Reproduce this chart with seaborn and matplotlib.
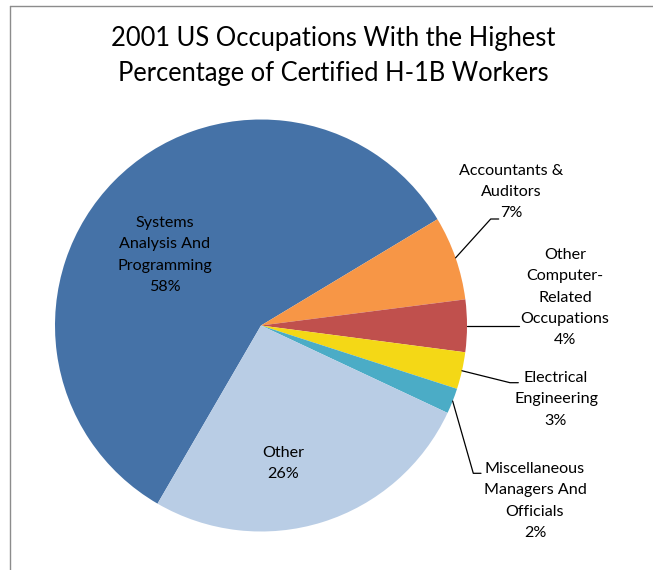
import matplotlib
matplotlib.use("Agg")
import numpy as np
import matplotlib.pyplot as plt
import seaborn as sns
from matplotlib.lines import Line2D

# data
occupations = ["Systems\nAnalysis And\nProgramming", "Accountants &\nAuditors",
               "Other\nComputer-\nRelated\nOccupations", "Electrical\nEngineering",
               "Miscellaneous\nManagers And\nOfficials", "Other"]
shares = [58.0, 6.6, 4.1, 2.9, 2.0, 26.4]
colors = ["#4572A7", "#F79646", "#C0504D", "#F4D816", "#4BACC6", "#B9CDE5"]

sns.set_style("white")
plt.rcParams['font.family'] = ['Lato', 'DejaVu Sans']

W, H = 653, 570
fig = plt.figure(figsize=(W / 100, H / 100), dpi=100)


def fx(x):
    return x / W


def fy(y):
    return 1 - y / H


# pie placement in pixels (from top-left)
cx, cy, r = 261, 325.5, 206
ax = fig.add_axes([fx(cx - r), fy(cy + r), 2 * r / W, 2 * r / H])
wedges, _ = ax.pie(shares, colors=colors, startangle=-120.15, counterclock=False,
                   wedgeprops=dict(linewidth=0))
ax.set_xlim(-1, 1)
ax.set_ylim(-1, 1)
ax.set_aspect('equal')

# chart frame (cropped on the right and bottom)
fig.add_artist(Line2D([fx(10), fx(10)], [fy(570), fy(6)], transform=fig.transFigure,
                      color="#8c8c8c", lw=1))
fig.add_artist(Line2D([fx(10), fx(653)], [fy(6), fy(6)], transform=fig.transFigure,
                      color="#8c8c8c", lw=1))

fig.text(fx(333), fy(56), "2001 US Occupations With the Highest\nPercentage of Certified H-1B Workers",
         ha="center", va="center", fontsize=18.4, linespacing=1.5, color="black")

# label centres (pixels) and leader elbows; None = label inside the slice
label_pos = [(165, 255), (511, 192), (565, 297.5), (556, 399.5), (535, 501), (283, 463.5)]
elbows = [None, [(490.7, 219), (498.7, 219)], [(518.7, None)],
          [(510, 382.7), (518.3, 382.7)], [(473.3, 473.3), (481, 473.3)], None]

for w, name, v, pos, elb in zip(wedges, occupations, shares, label_pos, elbows):
    fig.text(fx(pos[0]), fy(pos[1]), f"{name}\n{v:.0f}%", ha="center", va="center",
             fontsize=11.6, linespacing=1.67, color="black")
    if elb is None:
        continue
    mid = np.deg2rad((w.theta1 + w.theta2) / 2)
    x0, y0 = cx + r * np.cos(mid), cy - r * np.sin(mid)
    pts = [(x0, y0)] + [(px, y0 if py is None else py) for px, py in elb]
    fig.add_artist(Line2D([fx(p[0]) for p in pts], [fy(p[1]) for p in pts],
                          transform=fig.transFigure, color="black", lw=0.9))

fig.savefig("out.png", dpi=100)
